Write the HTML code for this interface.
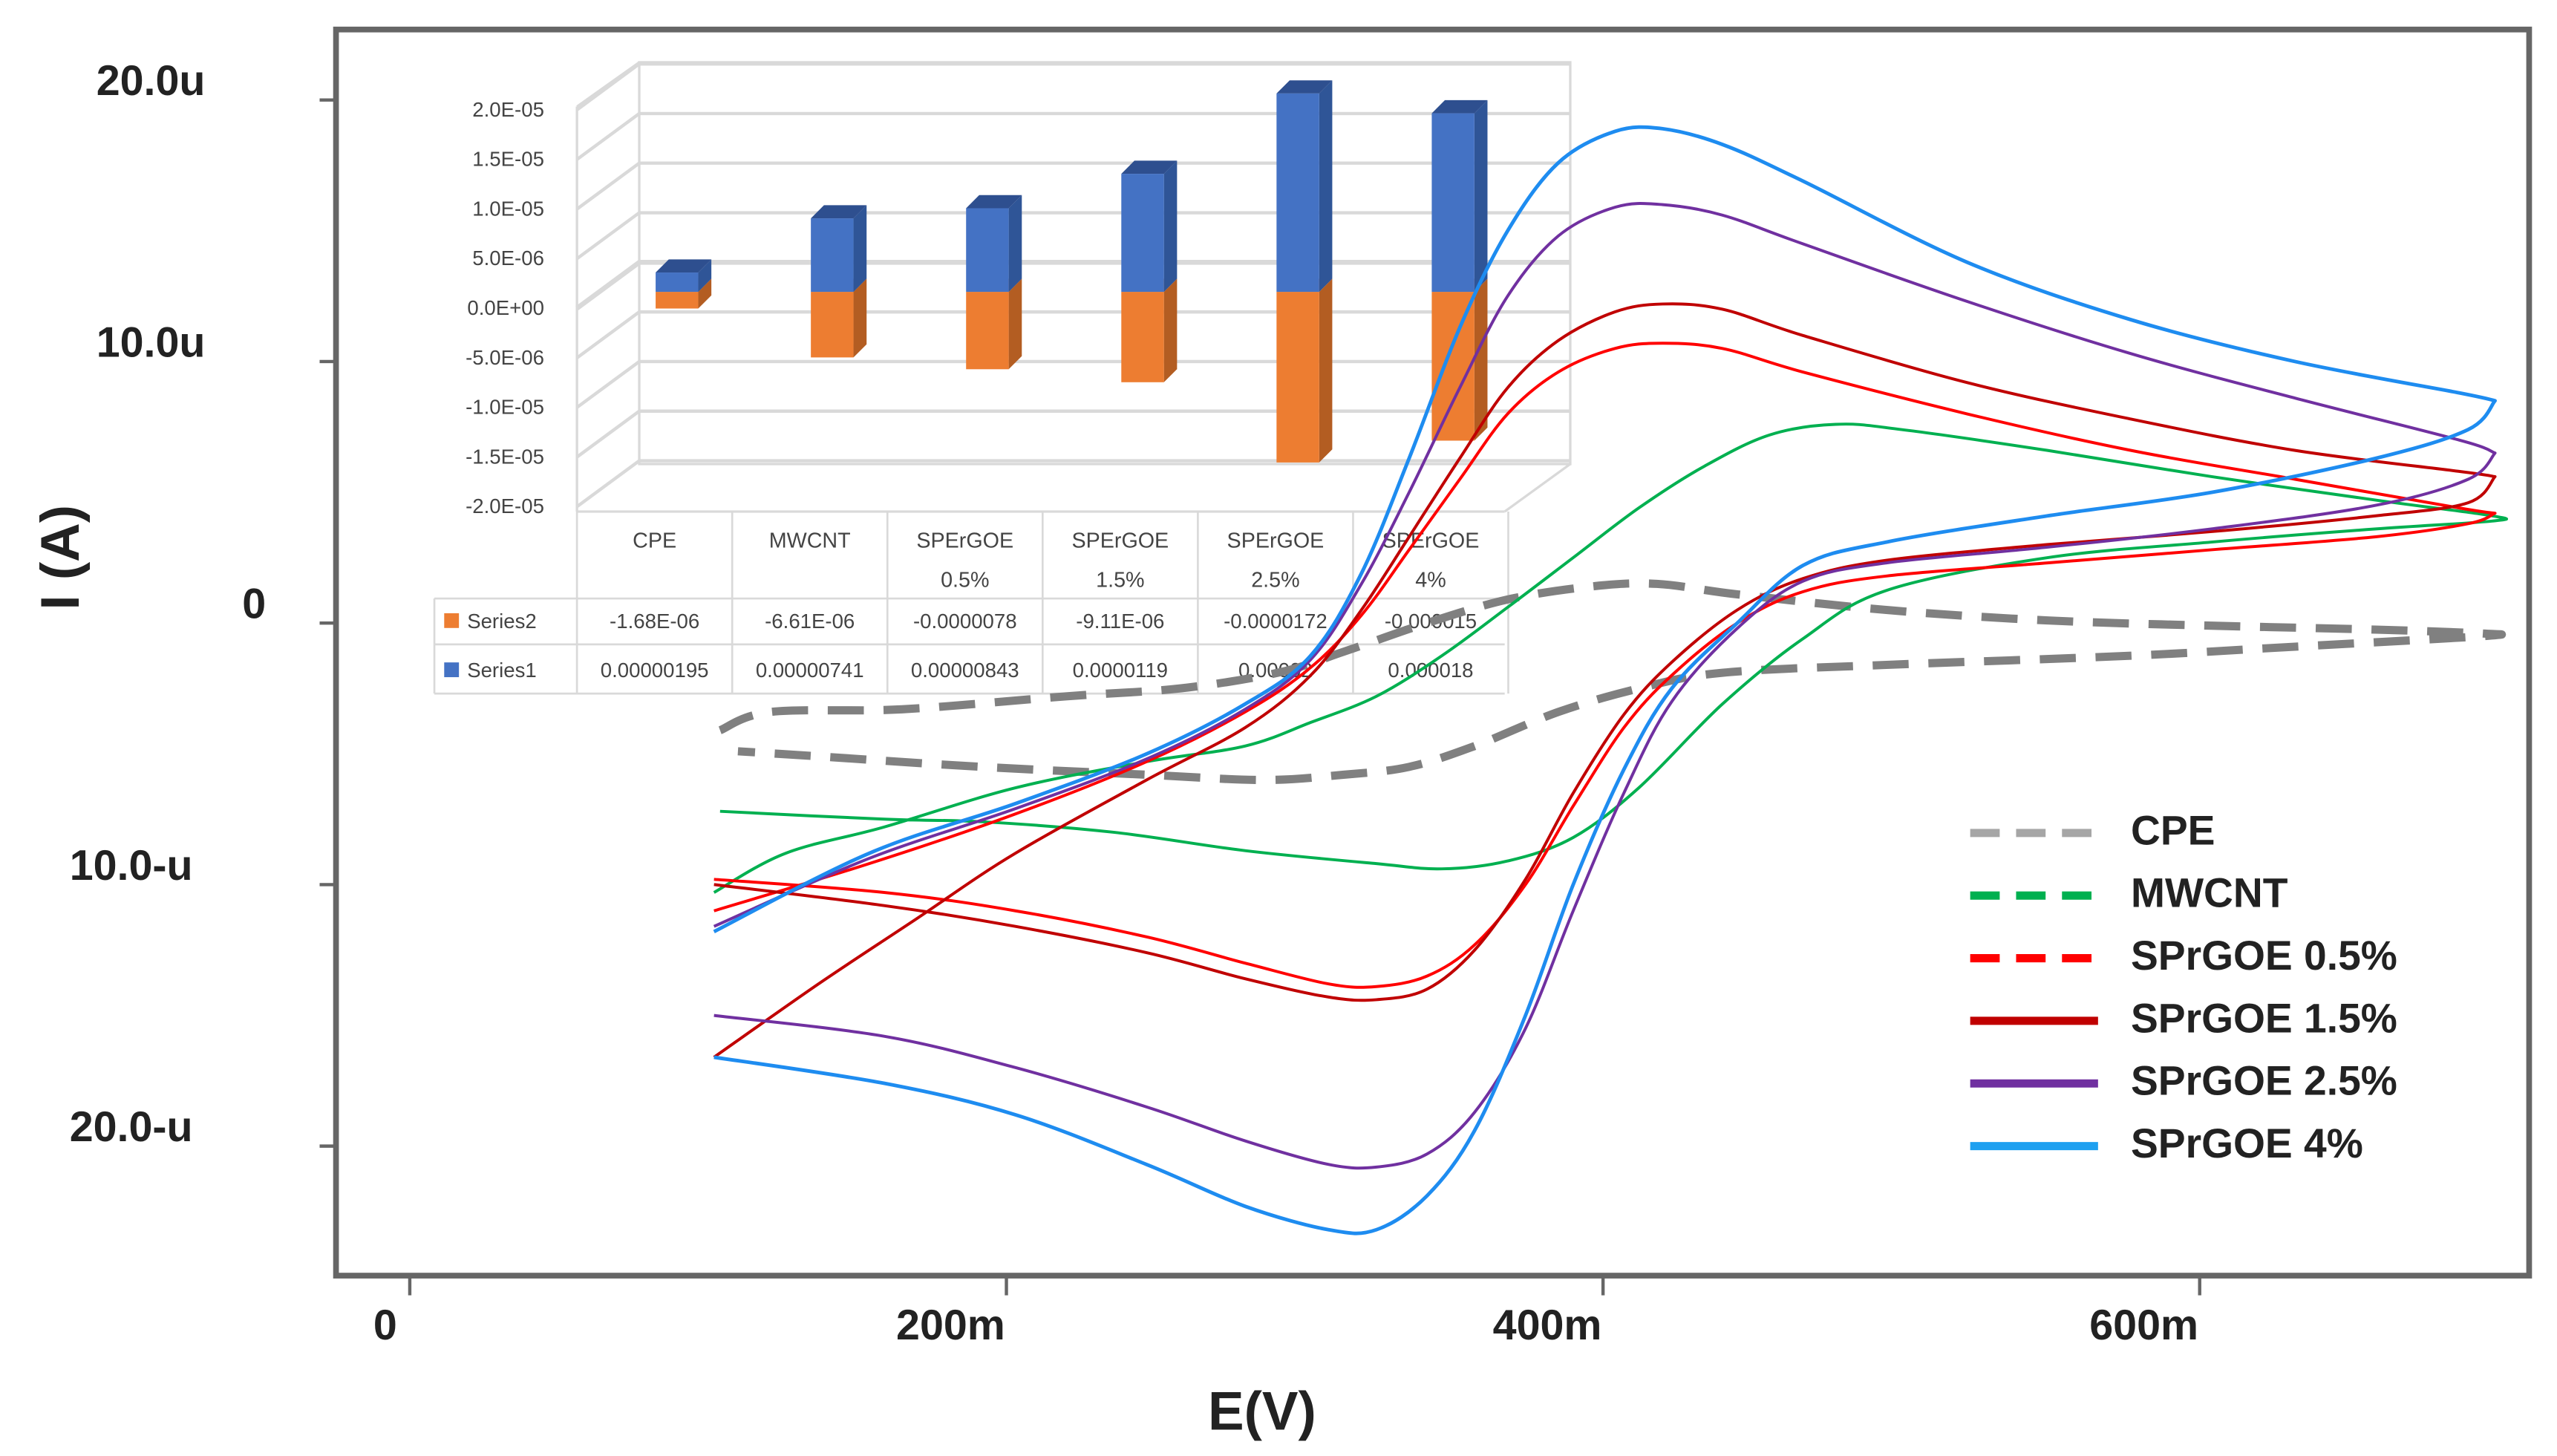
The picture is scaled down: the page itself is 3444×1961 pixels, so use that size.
<!DOCTYPE html>
<html><head><meta charset="utf-8"><style>
html,body{margin:0;padding:0;background:#fff;}
svg{display:block;font-family:"Liberation Sans",Arial,sans-serif;}
</style></head><body>
<svg id="chart" width="3444" height="1961" viewBox="0 0 1560 888" preserveAspectRatio="none" xmlns="http://www.w3.org/2000/svg">
<rect x="0" y="0" width="1560" height="888" fill="#fff"/>
<g id="inset"></g>
<g id="curves"></g>
<rect x="205" y="18" width="1338" height="760" fill="none" stroke="#666" stroke-width="3.5"/>
<g id="axes"></g>
<text x="770" y="872" font-size="33" font-weight="bold" text-anchor="middle" fill="#222">E(V)</text>
<text transform="translate(48,340) rotate(-90)" font-size="33" font-weight="bold" text-anchor="middle" fill="#222">I (A)</text>
<g id="legend"></g>
</svg>
<script>
// ---------- main chart data (E in mV, I in µA) ----------
const xTicks = [0, 200, 400, 600];
const xTickLabels = ["0", "200m", "400m", "600m"];
const yTicks = [20, 10, 0, -10, -20];
const yTickLabels = ["20.0u", "10.0u", "0", "10.0-u", "20.0-u"];
const seriesNames = ["CPE", "MWCNT", "SPrGOE 0.5%", "SPrGOE 1.5%", "SPrGOE 2.5%", "SPrGOE 4%"];

const cpeE = [104,121,165,220,258,291,313,341,368,396,418,445,495,549,604,659,695, 695,632,577,495,440,412,385,357,335,313,286,247,192,137,110];
const cpeI = [-4.1,-3.4,-3.3,-2.8,-2.5,-1.9,-1.1,0,0.9,1.4,1.5,1.1,0.5,0.1,-0.1,-0.25,-0.4, -0.5,-0.9,-1.25,-1.6,-1.9,-2.5,-3.4,-4.7,-5.5,-5.8,-6.0,-5.8,-5.5,-5.1,-4.9];

const mwE = [102,126,159,203,247,280,302,324,346,368,390,412,434,456,478,500,549,604,659,698, 698,659,604,549,495,467,440,412,390,368,346,324,280,236,192,159,104];
const mwI = [-10.3,-8.8,-7.8,-6.3,-5.3,-4.7,-3.8,-2.8,-1.25,0.6,2.5,4.4,6.0,7.2,7.6,7.4,6.6,5.6,4.7,4.1, 3.9,3.6,3.1,2.5,1.25,-0.6,-3.1,-6.3,-8.2,-9.1,-9.4,-9.2,-8.7,-8.0,-7.6,-7.5,-7.2];

const cvE = [102,154,203,247,280,302,319,335,352,368,385,404,420,440,467,522,577,632,687,699, 690,659,604,549,495,467,445,423,407,390,374,357,341,324,308,280,247,203,159,102];
const s05I = [-11.0,-9.2,-7.3,-5.3,-3.4,-1.7,0.3,2.8,5.5,8.0,9.6,10.5,10.7,10.5,9.6,8.0,6.6,5.5,4.4,4.2, 3.8,3.3,2.8,2.3,1.8,1.2,0,-2.0,-4.0,-7.0,-10.0,-12.3,-13.5,-13.9,-13.8,-13.0,-12.0,-11.0,-10.3,-9.8];
const s15E = [102,137,170,203,247,280,302,319,335,352,368,385,404,420,440,467,522,577,632,687,699, 690,659,604,549,495,467,445,423,407,390,374,357,341,324,308,280,247,203,159,102];
const s15I = [-16.6,-13.8,-11.3,-8.8,-6.0,-4.0,-2.0,0.5,3.3,6.3,9.0,10.8,11.9,12.2,12.0,11.0,9.2,7.8,6.6,5.8,5.6, 4.6,4.1,3.5,3.0,2.4,1.7,0.5,-1.5,-3.5,-6.5,-9.8,-12.5,-14.0,-14.4,-14.3,-13.6,-12.6,-11.6,-10.8,-10.0];
const s25I = [-11.6,-9.0,-7.1,-5.2,-3.3,-1.4,1.5,5.0,9.0,12.5,14.8,15.9,16.0,15.6,14.5,12.3,10.3,8.6,7.0,6.5, 5.5,4.5,3.6,2.9,2.3,1.6,-0.2,-3.0,-6.5,-11,-15.5,-18.7,-20.3,-20.8,-20.7,-19.8,-18.5,-17.0,-15.8,-15.0];
const s4I = [-11.8,-8.8,-6.9,-5.0,-3.1,-1.25,1.9,6.3,11.3,15.0,17.6,18.8,18.9,18.3,16.9,13.8,11.6,10.0,8.8,8.5, 7.4,6.3,5.0,4.1,3.1,2.2,0,-2.5,-5.6,-10.0,-15.0,-19.4,-21.9,-23.2,-23.2,-22.3,-20.7,-18.8,-17.6,-16.6];

// ---------- inset bar data ----------
const barCats = [["CPE"],["MWCNT"],["SPErGOE","0.5%"],["SPErGOE","1.5%"],["SPErGOE","2.5%"],["SPErGOE","4%"]];
const series1 = [0.00000195, 0.00000741, 0.00000843, 0.0000119, 0.00002, 0.000018];
const series2 = [-0.00000168, -0.00000661, -0.0000078, -0.00000911, -0.0000172, -0.000015];
const series1Labels = ["0.00000195","0.00000741","0.00000843","0.0000119","0.00002","0.000018"];
const series2Labels = ["-1.68E-06","-6.61E-06","-0.0000078","-9.11E-06","-0.0000172","-0.000015"];
const insetTicks = [2e-5,1.5e-5,1e-5,5e-6,0,-5e-6,-1e-5,-1.5e-5,-2e-5];
const insetTickLabels = ["2.0E-05","1.5E-05","1.0E-05","5.0E-06","0.0E+00","-5.0E-06","-1.0E-05","-1.5E-05","-2.0E-05"];

const NS = "http://www.w3.org/2000/svg";
function mk(tag, attrs, parent){const e=document.createElementNS(NS,tag);for(const k in attrs)e.setAttribute(k,attrs[k]);parent.appendChild(e);return e;}
const X = e => 250 + e*1.82;
const Y = i => 380 - i*15.95;

function isCorner(pts,i){
  if(i<=0||i>=pts.length-1) return false;
  const a=pts[i][0]-pts[i-1][0], b=pts[i+1][0]-pts[i][0];
  return a*b<0;
}
function smoothPath(pts){
  let d = "M"+pts[0][0].toFixed(1)+","+pts[0][1].toFixed(1);
  for(let i=0;i<pts.length-1;i++){
    let p0=pts[Math.max(0,i-1)],p1=pts[i],p2=pts[i+1],p3=pts[Math.min(pts.length-1,i+2)];
    if(isCorner(pts,i)) p0=p1;
    if(isCorner(pts,i+1)) p3=p2;
    const c1=[p1[0]+(p2[0]-p0[0])/6,p1[1]+(p2[1]-p0[1])/6];
    const c2=[p2[0]-(p3[0]-p1[0])/6,p2[1]-(p3[1]-p1[1])/6];
    d+=" C"+c1[0].toFixed(1)+","+c1[1].toFixed(1)+" "+c2[0].toFixed(1)+","+c2[1].toFixed(1)+" "+p2[0].toFixed(1)+","+p2[1].toFixed(1);
  }
  return d;
}

// ---------- inset ----------
const inset = document.getElementById("inset");
const IZ = 178, IS = 6.05e6;
const IY = v => IZ - v*IS;
const dx = 38, dy = -28;
const wall = mk("g",{},inset);


mk("rect",{x:390,y:38,width:568,height:245,fill:"#fff",stroke:"#d9d9d9","stroke-width":1.5},wall);
mk("line",{x1:352,y1:65,x2:352,y2:312,stroke:"#d9d9d9","stroke-width":1.5},wall);
mk("line",{x1:352,y1:65,x2:390,y2:38,stroke:"#d9d9d9","stroke-width":1.5},wall);
mk("line",{x1:352,y1:312,x2:918,y2:312,stroke:"#d9d9d9","stroke-width":1.5},wall);
mk("line",{x1:918,y1:312,x2:958,y2:283,stroke:"#d9d9d9","stroke-width":1.5},wall);
insetTicks.forEach((t,k)=>{
  const fy = IY(t)+10;
  const gl = mk("polyline",{points:`352,${fy} ${352+dx},${fy+dy} 958,${fy+dy}`,fill:"none",stroke:"#d9d9d9","stroke-width":t===0?3:2},wall);
  
  
  const tl = mk("text",{x:332,y:fy+4,"font-size":12.5,"text-anchor":"end",fill:"#444"},inset);
  tl.textContent = insetTickLabels[k];
  
  
});
function bar3d(x,y0,y1,w,cFront,cSide,cTop,name){
  const g = mk("g",{},inset);
  
  
  const top=Math.min(y0,y1),bot=Math.max(y0,y1);
  mk("polygon",{points:`${x+w},${top} ${x+w+8},${top-8} ${x+w+8},${bot-8} ${x+w},${bot}`,fill:cSide},g);
  mk("polygon",{points:`${x},${top} ${x+8},${top-8} ${x+w+8},${top-8} ${x+w},${top}`,fill:cTop},g);
  mk("rect",{x:x,y:top,width:w,height:bot-top,fill:cFront},g);
}
const colW = 94.7, col0 = 352;
barCats.forEach((c,k)=>{
  const bx = 400 + k*colW;
  bar3d(bx, IY(0), IY(series2[k]), 26, "#ED7D31", "#B35D22", "#F29A5E", "inset-bar-series2");
  bar3d(bx, IY(0), IY(series1[k]), 26, "#4472C4", "#2F5597", "#2E4F8F", "inset-bar-series1");
  c.forEach((line,j)=>{
    const t = mk("text",{x:col0+colW*(k+0.5),y:334+j*24,"font-size":13,"text-anchor":"middle",fill:"#444"},inset);
    t.textContent = line;
    
    
  });
});
const tbl = mk("g",{},inset);


[365,393,423].forEach(y=>mk("line",{x1:265,y1:y,x2:918,y2:y,stroke:"#d9d9d9","stroke-width":1.2},tbl));
mk("line",{x1:265,y1:365,x2:265,y2:423,stroke:"#d9d9d9","stroke-width":1.2},tbl);
for(let k=0;k<=6;k++) mk("line",{x1:col0+colW*k,y1:312,x2:col0+colW*k,y2:423,stroke:"#d9d9d9","stroke-width":1.2},tbl);
[["Series2","#ED7D31",series2Labels,383],["Series1","#4472C4",series1Labels,413]].forEach(r=>{
  mk("rect",{x:271,y:r[3]-9,width:9,height:9,fill:r[1]},tbl);
  const n = mk("text",{x:285,y:r[3],"font-size":12.5,fill:"#444"},tbl); n.textContent=r[0];
  r[2].forEach((v,k)=>{
    const t = mk("text",{x:col0+colW*(k+0.5),y:r[3],"font-size":12.5,"text-anchor":"middle",fill:"#444"},tbl);
    t.textContent = v;
    
    
  });
});

// ---------- curves ----------
const curves = document.getElementById("curves");
const defs = [
  [cpeE, cpeI, "#808080", 5, "22,12", "curve-cpe"],
  [mwE, mwI, "#00B050", 1.8, null, "curve-mwcnt"],
  [cvE, s05I, "#FF0000", 1.8, null, "curve-sprgoe-0-5"],
  [s15E, s15I, "#C00000", 1.8, null, "curve-sprgoe-1-5"],
  [cvE, s25I, "#7030A0", 1.8, null, "curve-sprgoe-2-5"],
  [cvE, s4I, "#1E8CF0", 2.2, null, "curve-sprgoe-4"]
];
defs.forEach(d=>{
  const pts = d[0].map((e,i)=>[X(e),Y(d[1][i])]);
  const p = mk("path",{d:smoothPath(pts),fill:"none",stroke:d[2],"stroke-width":d[3],"stroke-linejoin":"round"},curves);
  if(d[4]) p.setAttribute("stroke-dasharray",d[4]);
  
  
});

// ---------- axes ----------
const axes = document.getElementById("axes");
const yLabelX = [92,92,155,80,80];
yTicks.forEach((v,k)=>{
  mk("line",{x1:195,y1:Y(v),x2:205,y2:Y(v),stroke:"#666","stroke-width":2},axes);
  const t = mk("text",{x:yLabelX[k],y:Y(v)-3,"font-size":26,"font-weight":"bold","text-anchor":"middle",fill:"#222"},axes);
  t.textContent = yTickLabels[k];
  
  
});
xTicks.forEach((v,k)=>{
  mk("line",{x1:X(v),y1:778,x2:X(v),y2:790,stroke:"#666","stroke-width":2},axes);
  const t = mk("text",{x:X(v)-(k===0?15:34),y:817,"font-size":26,"font-weight":"bold","text-anchor":"middle",fill:"#222"},axes);
  t.textContent = xTickLabels[k];
  
  
});

// ---------- legend ----------
const legend = document.getElementById("legend");
const legColors = ["#A6A6A6","#00B050","#FF0000","#C00000","#7030A0","#1EA0F0"];
const legDash = ["18,10","18,10","18,10",null,null,null];
seriesNames.forEach((n,k)=>{
  const y = 505 + k*38.2;
  const g = mk("g",{},legend);
  
  
  const l = mk("line",{x1:1202,y1:y+3,x2:1280,y2:y+3,stroke:legColors[k],"stroke-width":5},g);
  if(legDash[k]) l.setAttribute("stroke-dasharray",legDash[k]);
  const t = mk("text",{x:1300,y:y+10,"font-size":25,"font-weight":"bold",fill:"#222"},g);
  t.textContent = n;
});
</script>
</body></html>
